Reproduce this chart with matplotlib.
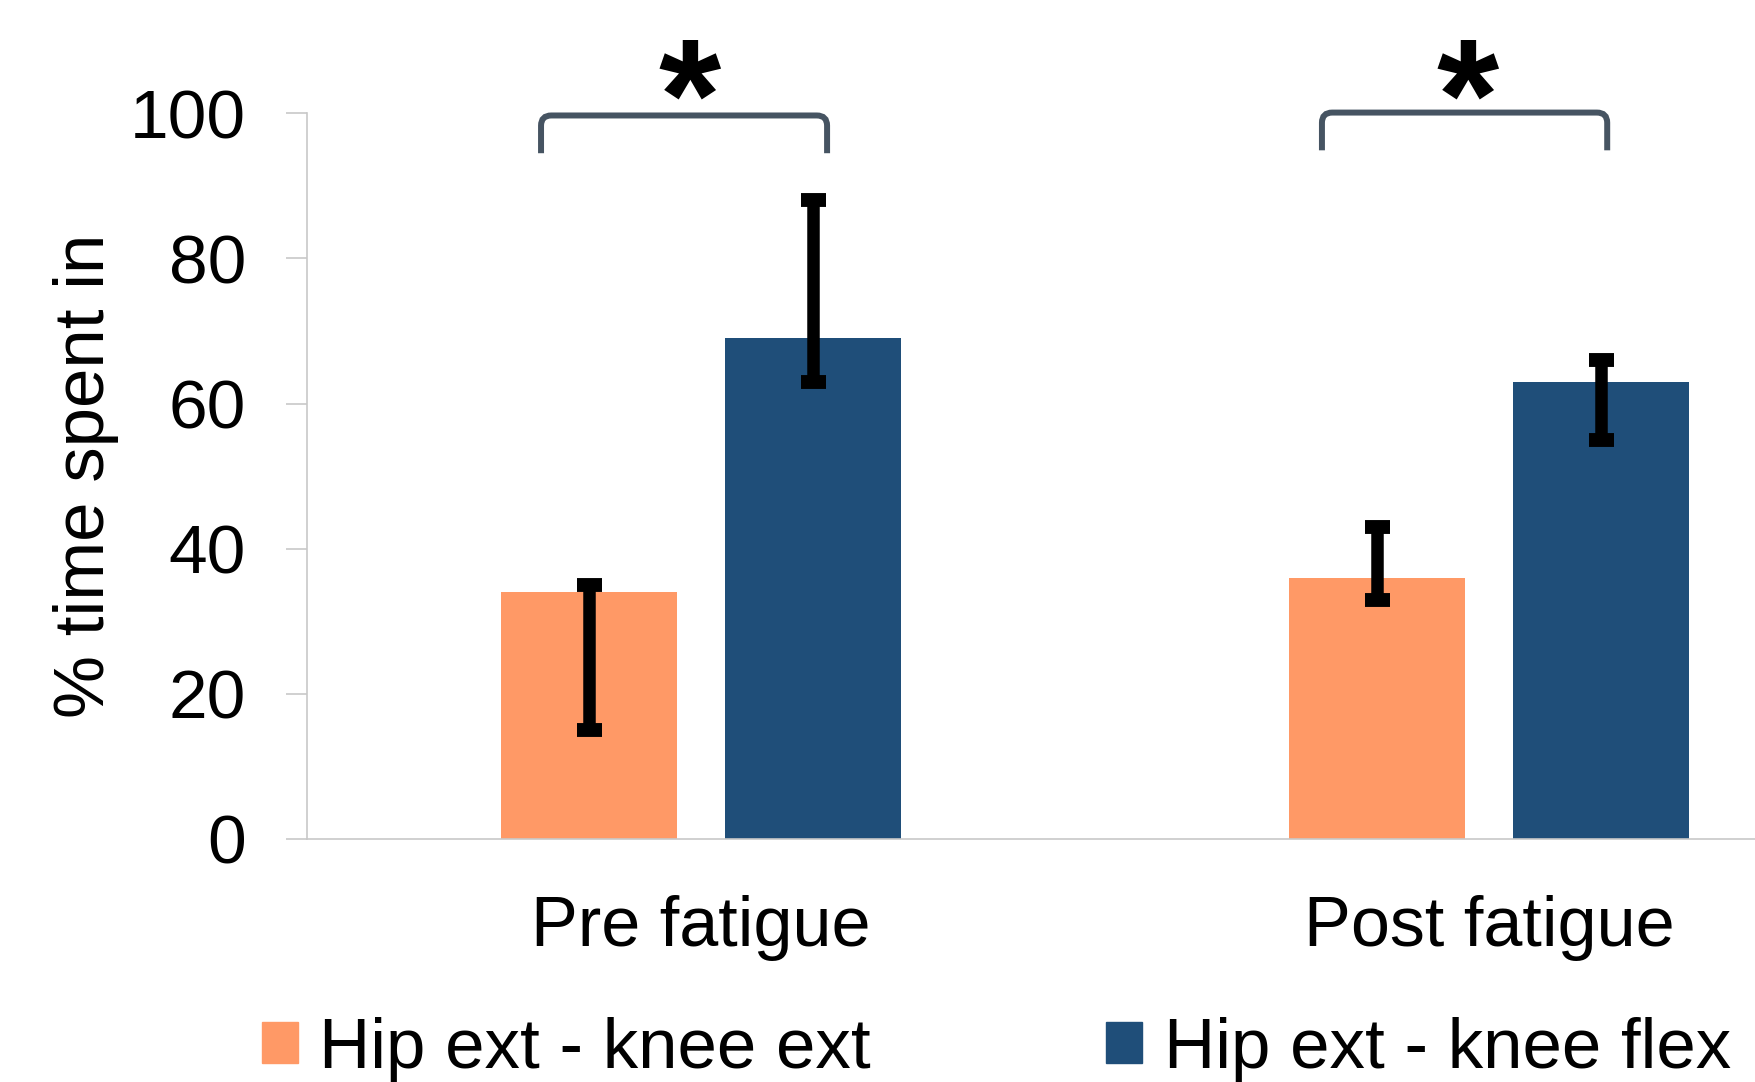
import matplotlib
matplotlib.use('Agg')
import matplotlib.pyplot as plt
from matplotlib.patches import Patch, PathPatch
from matplotlib.path import Path
import numpy as np

plt.rcParams['font.family'] = ['Liberation Sans', 'DejaVu Sans']

groups = ['Pre fatigue', 'Post fatigue']
series = ['Hip ext - knee ext', 'Hip ext - knee flex']
ext_vals = [34, 36]
flex_vals = [69, 63]
ext_err_lo = [19, 3]
ext_err_hi = [1, 7]
flex_err_lo = [6, 8]
flex_err_hi = [19, 3]
yticks = [0, 20, 40, 60, 80, 100]

c_ext = '#FF9966'
c_flex = '#1F4E79'
c_axis = '#C8C8C8'
c_brack = '#465462'

fig = plt.figure(figsize=(17.55, 10.82), dpi=100)
ax = fig.add_axes([307 / 1755, 243 / 1082, 1576 / 1755, 725.7 / 1082])

x = np.arange(len(groups))
off = 0.1425
w = 0.2235
ax.bar(x - off, ext_vals, w, color=c_ext, zorder=2)
ax.bar(x + off, flex_vals, w, color=c_flex, zorder=2)
err_kw = dict(fmt='none', ecolor='black', elinewidth=9, capsize=9, capthick=10, zorder=3)
ax.errorbar(x - off, ext_vals, yerr=[ext_err_lo, ext_err_hi], **err_kw)
ax.errorbar(x + off, flex_vals, yerr=[flex_err_lo, flex_err_hi], **err_kw)

ax.set_xlim(-0.5, 1.5)
ax.set_ylim(0, 100)
ax.set_yticks(yticks)
ax.set_xticks(x)
ax.set_xticklabels(groups, fontsize=50.5)
ax.tick_params(axis='x', length=0, pad=40)
ax.tick_params(axis='y', length=15, width=1.2, color=c_axis, pad=29, labelsize=50)
for s in ['top', 'right']:
    ax.spines[s].set_visible(False)
for s in ['left', 'bottom']:
    ax.spines[s].set_color(c_axis)
    ax.spines[s].set_linewidth(1.2)

fig.text(0.049, 0.560, '% time spent in', rotation=90, ha='center', va='center', fontsize=51)

# significance brackets
def bracket(x0, x1, yb, yt, rx=0.013, ry=1.4):
    verts = [(x0, yb), (x0, yt - ry), (x0, yt), (x0 + rx, yt),
             (x1 - rx, yt), (x1, yt), (x1, yt - ry), (x1, yb)]
    codes = [Path.MOVETO, Path.LINETO, Path.CURVE3, Path.CURVE3,
             Path.LINETO, Path.CURVE3, Path.CURVE3, Path.LINETO]
    ax.add_patch(PathPatch(Path(verts, codes), fill=False, edgecolor=c_brack,
                           lw=4.3, capstyle='butt', clip_on=False))

brack_l = [-0.203, -0.212]
brack_r = [0.160, 0.150]
brack_top = [99.7, 100.1]
star_dx = [-0.014, -0.027]
for i, xi in enumerate(x):
    bracket(xi + brack_l[i], xi + brack_r[i], brack_top[i] - 5.2, brack_top[i])
    ax.text(xi + star_dx[i], 95.0, '*', ha='center', va='baseline', fontsize=115,
            fontweight='bold', clip_on=False)

handles = [Patch(color=c_ext), Patch(color=c_flex)]
fig.legend(handles, series, loc='center left', bbox_to_anchor=(262 / 1755, 0.030),
           ncol=2, frameon=False, fontsize=51, handlelength=0.51, handleheight=0.51,
           handletextpad=0.3, columnspacing=3.32, borderpad=0, borderaxespad=0)

fig.savefig('out.png', dpi=100)
